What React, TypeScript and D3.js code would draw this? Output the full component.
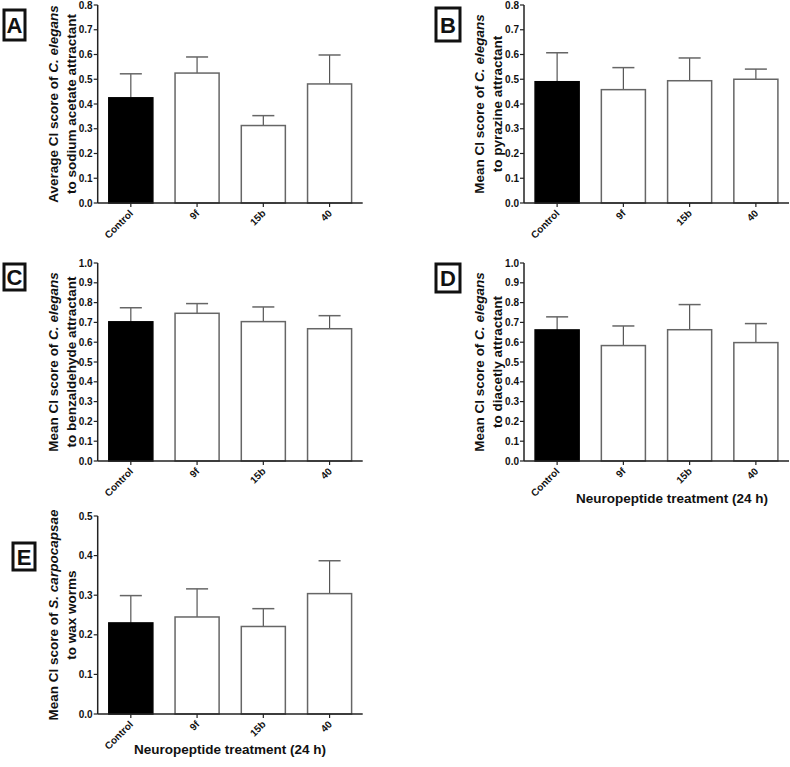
import React from "react";
import * as d3 from "d3";

const categories = ["Control", "9f", "15b", "40"];

const aMeans = [0.425, 0.525, 0.313, 0.481];
const aUpper = [0.522, 0.590, 0.353, 0.598];
const bMeans = [0.490, 0.458, 0.494, 0.500];
const bUpper = [0.607, 0.547, 0.586, 0.541];
const cMeans = [0.703, 0.746, 0.704, 0.668];
const cUpper = [0.774, 0.795, 0.778, 0.734];
const dMeans = [0.662, 0.583, 0.663, 0.598];
const dUpper = [0.728, 0.682, 0.790, 0.694];
const eMeans = [0.230, 0.245, 0.221, 0.304];
const eUpper = [0.299, 0.316, 0.266, 0.387];

const ticks08 = [0, 0.1, 0.2, 0.3, 0.4, 0.5, 0.6, 0.7, 0.8];
const ticks10 = [0, 0.1, 0.2, 0.3, 0.4, 0.5, 0.6, 0.7, 0.8, 0.9, 1.0];
const ticks05 = [0, 0.1, 0.2, 0.3, 0.4, 0.5];

const xTitle = "Neuropeptide treatment (24 h)";

type Part = { t: string; i?: boolean };

const FONT = "'Liberation Sans', Arial, sans-serif";

function Panel(props: {
  letter: string;
  box: [number, number, number, number];
  left: number;
  top: number;
  bottom: number;
  max: number;
  ticks: number[];
  means: number[];
  upper: number[];
  title1: Part[];
  title2: Part[];
  xlabel?: { cx: number; y: number };
}) {
  const { left, top, bottom, max, ticks, means, upper } = props;
  const width = 265;
  const x = d3.scaleBand<string>().domain(categories).range([left, left + width]).paddingInner(0.335).paddingOuter(0.1675);
  const y = d3.scaleLinear().domain([0, max]).range([bottom, top]);
  const bw = x.bandwidth();
  const midY = (top + bottom) / 2;
  const [bx, by, bwid, bh] = props.box;
  return (
    <g fontFamily={FONT} fill="#111">
      <rect x={bx} y={by} width={bwid} height={bh} fill="#fff" stroke="#111" strokeWidth={3} />
      <text x={bx + bwid / 2} y={by + bh / 2 + 8} textAnchor="middle" fontSize={22} fontWeight="bold">{props.letter}</text>
      {categories.map((c, i) => {
        const x0 = x(c)!;
        const cx = x0 + bw / 2;
        const ctrl = i === 0;
        return (
          <g key={c}>
            <line x1={cx} x2={cx} y1={y(means[i])} y2={y(upper[i])} stroke="#555" strokeWidth={1.2} />
            <line x1={cx - bw / 4} x2={cx + bw / 4} y1={y(upper[i])} y2={y(upper[i])} stroke="#666" strokeWidth={1.5} />
            <rect x={x0} y={y(means[i])} width={bw} height={bottom - y(means[i])} fill={ctrl ? "#000" : "#fff"} stroke={ctrl ? "#000" : "#666"} strokeWidth={1.5} />
            <line x1={cx} x2={cx} y1={bottom} y2={bottom + 4} stroke="#222" strokeWidth={1.2} />
            <text transform={`translate(${cx + 3},${bottom + 11}) rotate(-45)`} textAnchor="end" fontSize={10} fontWeight="bold">{c}</text>
          </g>
        );
      })}
      <line x1={left} x2={left + width} y1={bottom} y2={bottom} stroke="#222" strokeWidth={1.5} />
      <line x1={left} x2={left} y1={top} y2={bottom} stroke="#222" strokeWidth={1.5} />
      {ticks.map((t) => (
        <g key={t}>
          <line x1={left - 4} x2={left} y1={y(t)} y2={y(t)} stroke="#222" strokeWidth={1.2} />
          <text x={left - 5} y={y(t) + 3.5} textAnchor="end" fontSize={10} fontWeight="bold">{t.toFixed(1)}</text>
        </g>
      ))}
      <text transform={`translate(${left - 40},${midY}) rotate(-90)`} textAnchor="middle" fontSize={13.5} fontWeight="bold">
        {props.title1.map((p, k) => <tspan key={k} fontStyle={p.i ? "italic" : "normal"}>{p.t}</tspan>)}
      </text>
      <text transform={`translate(${left - 22},${midY}) rotate(-90)`} textAnchor="middle" fontSize={13.5} fontWeight="bold">
        {props.title2.map((p, k) => <tspan key={k} fontStyle={p.i ? "italic" : "normal"}>{p.t}</tspan>)}
      </text>
      {props.xlabel && (
        <text x={props.xlabel.cx} y={props.xlabel.y} textAnchor="middle" fontSize={13.5} fontWeight="bold">{xTitle}</text>
      )}
    </g>
  );
}

export default function App() {
  return (
    <svg width={790} height={767} style={{ position: "absolute", left: 0, top: 0, background: "#fff" }}>
      <rect width={790} height={767} fill="#fff" />
      <Panel letter="A" box={[4, 10, 21, 30]} left={97.7} top={5} bottom={203} max={0.8} ticks={ticks08} means={aMeans} upper={aUpper}
        title1={[{ t: "Average CI score of " }, { t: "C. elegans", i: true }]} title2={[{ t: "to sodium acetate attractant" }]} />
      <Panel letter="B" box={[436, 8, 24, 33]} left={524} top={5} bottom={203} max={0.8} ticks={ticks08} means={bMeans} upper={bUpper}
        title1={[{ t: "Mean CI score of " }, { t: "C. elegans", i: true }]} title2={[{ t: "to pyrazine attractant" }]} />
      <Panel letter="C" box={[4, 264, 21, 26]} left={97.7} top={263} bottom={461} max={1.0} ticks={ticks10} means={cMeans} upper={cUpper}
        title1={[{ t: "Mean CI score of " }, { t: "C. elegans", i: true }]} title2={[{ t: "to benzaldehyde attractant" }]} />
      <Panel letter="D" box={[436, 264, 24, 28]} left={524} top={263} bottom={461} max={1.0} ticks={ticks10} means={dMeans} upper={dUpper}
        title1={[{ t: "Mean CI score of " }, { t: "C. elegans", i: true }]} title2={[{ t: "to diacetly attractant" }]}
        xlabel={{ cx: 672, y: 503 }} />
      <Panel letter="E" box={[13, 543, 22, 27]} left={97.7} top={516} bottom={714} max={0.5} ticks={ticks05} means={eMeans} upper={eUpper}
        title1={[{ t: "Mean CI score of " }, { t: "S. carpocapsae", i: true }]} title2={[{ t: "to wax worms" }]}
        xlabel={{ cx: 230, y: 754 }} />
    </svg>
  );
}
